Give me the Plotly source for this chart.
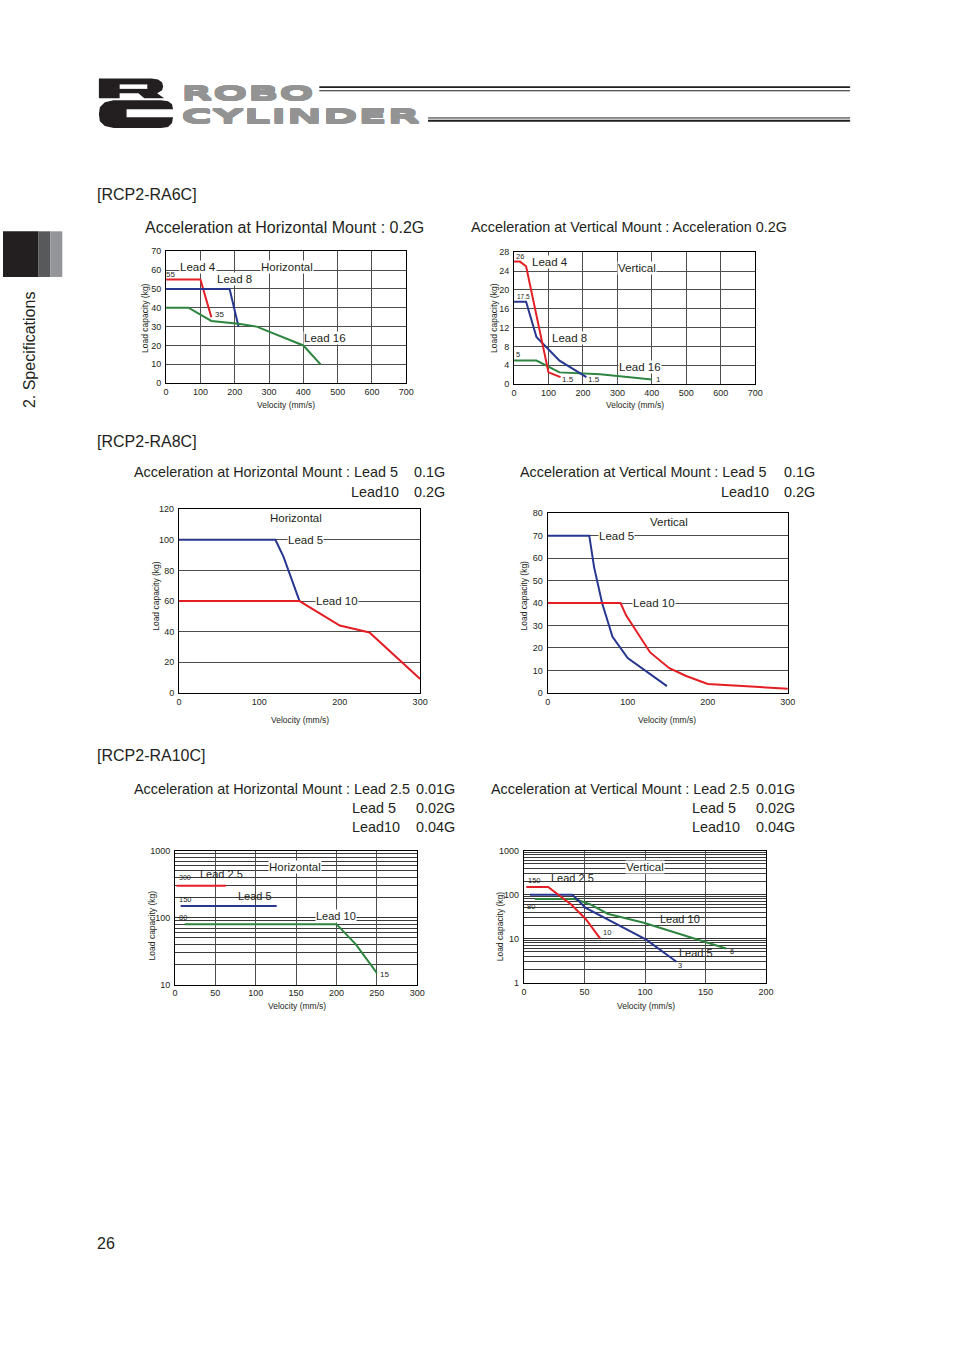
import math
import plotly.graph_objects as go

W, H = 954, 1350
FONT = "Liberation Sans, Arial, sans-serif"
INK = "#231f20"
RED = "#e31e24"
BLUE = "#27378f"
GREEN = "#2e8540"
GRID = "#4d4d4d"

# ---------------- data ----------------
# RCP2-RA6C horizontal (velocity mm/s, load kg)
ra6c_h_lead4_x = [0, 100, 132]
ra6c_h_lead4_y = [55, 55, 35]
ra6c_h_lead8_x = [0, 185, 211]
ra6c_h_lead8_y = [50, 50, 30]
ra6c_h_lead16_x = [0, 65, 132, 211, 264, 400, 450]
ra6c_h_lead16_y = [40, 40, 33, 31.5, 30, 20, 10]
# RCP2-RA6C vertical
ra6c_v_lead4_x = [0, 17, 35, 100, 135]
ra6c_v_lead4_y = [26, 26, 25, 2.5, 1.5]
ra6c_v_lead8_x = [0, 35, 65, 132, 210]
ra6c_v_lead8_y = [17.5, 17.5, 10, 5, 1.5]
ra6c_v_lead16_x = [0, 65, 132, 250, 400]
ra6c_v_lead16_y = [5, 5, 2.5, 2.1, 1]
# RCP2-RA8C horizontal
ra8c_h_lead5_x = [0, 120, 130, 150]
ra8c_h_lead5_y = [100, 100, 89, 60]
ra8c_h_lead10_x = [0, 150, 200, 237, 300]
ra8c_h_lead10_y = [60, 60, 44, 39.5, 9]
# RCP2-RA8C vertical
ra8c_v_lead5_x = [0, 52, 58, 68, 81, 100, 149]
ra8c_v_lead5_y = [70, 70, 56, 40, 25, 15.5, 3]
ra8c_v_lead10_x = [0, 91, 98, 128, 152, 173, 200, 300]
ra8c_v_lead10_y = [40, 40, 34.5, 18, 11, 7.5, 4, 1.8]
# RCP2-RA10C horizontal (log load axis)
ra10c_h_lead25_x = [2, 63]
ra10c_h_lead25_y = [300, 300]
ra10c_h_lead5_x = [7, 126]
ra10c_h_lead5_y = [150, 150]
ra10c_h_lead10_x = [12, 200, 224, 250]
ra10c_h_lead10_y = [80, 80, 40, 15]
# RCP2-RA10C vertical (log load axis)
ra10c_v_lead25_x = [2, 20, 39, 51, 63]
ra10c_v_lead25_y = [150, 150, 60, 28, 10]
ra10c_v_lead5_x = [5, 40, 51, 101, 126]
ra10c_v_lead5_y = [100, 100, 50, 9.5, 3]
ra10c_v_lead10_x = [9, 42, 55, 69, 99, 167]
ra10c_v_lead10_y = [80, 80, 60, 37, 23, 6]

# tick values
ra6c_h_xticks = [0, 100, 200, 300, 400, 500, 600, 700]
ra6c_h_yticks = [0, 10, 20, 30, 40, 50, 60, 70]
ra6c_v_xticks = [0, 100, 200, 300, 400, 500, 600, 700]
ra6c_v_yticks = [0, 4, 8, 12, 16, 20, 24, 28]
ra8c_h_xticks = [0, 100, 200, 300]
ra8c_h_yticks = [0, 20, 40, 60, 80, 100, 120]
ra8c_v_xticks = [0, 100, 200, 300]
ra8c_v_yticks = [0, 10, 20, 30, 40, 50, 60, 70, 80]
ra10c_h_xticks = [0, 50, 100, 150, 200, 250, 300]
ra10c_h_yticks = [10, 100, 1000]
ra10c_v_xticks = [0, 50, 100, 150, 200]
ra10c_v_yticks = [1, 10, 100, 1000]


def fx(x):
    return x / W


def fy(y):
    return 1 - y / H


fig = go.Figure()

panels = [
    dict(box=(165, 408, 248, 381), xr=[0, 700], yr=[0, 70], xt=ra6c_h_xticks, yt=ra6c_h_yticks, log=False, vgrid=True),
    dict(box=(517, 761, 249, 382), xr=[0, 700], yr=[0, 28], xt=ra6c_v_xticks, yt=ra6c_v_yticks, log=False, vgrid=True),
    dict(box=(178, 422, 508, 693), xr=[0, 300], yr=[0, 120], xt=ra8c_h_xticks, yt=ra8c_h_yticks, log=False, vgrid=False),
    dict(box=(551, 794, 512, 693), xr=[0, 300], yr=[0, 80], xt=ra8c_v_xticks, yt=ra8c_v_yticks, log=False, vgrid=False),
    dict(box=(174, 419, 852, 987), xr=[0, 300], yr=[1, 3], xt=ra10c_h_xticks, yt=ra10c_h_yticks, log=True, vgrid=True),
    dict(box=(527, 772, 852, 985), xr=[0, 200], yr=[0, 3], xt=ra10c_v_xticks, yt=ra10c_v_yticks, log=True, vgrid=True),
]

series = [
    (1, ra6c_h_lead4_x, ra6c_h_lead4_y, RED), (1, ra6c_h_lead8_x, ra6c_h_lead8_y, BLUE),
    (1, ra6c_h_lead16_x, ra6c_h_lead16_y, GREEN),
    (2, ra6c_v_lead16_x, ra6c_v_lead16_y, GREEN), (2, ra6c_v_lead8_x, ra6c_v_lead8_y, BLUE),
    (2, ra6c_v_lead4_x, ra6c_v_lead4_y, RED),
    (3, ra8c_h_lead5_x, ra8c_h_lead5_y, BLUE), (3, ra8c_h_lead10_x, ra8c_h_lead10_y, RED),
    (4, ra8c_v_lead5_x, ra8c_v_lead5_y, BLUE), (4, ra8c_v_lead10_x, ra8c_v_lead10_y, RED),
    (5, ra10c_h_lead25_x, ra10c_h_lead25_y, RED), (5, ra10c_h_lead5_x, ra10c_h_lead5_y, BLUE),
    (5, ra10c_h_lead10_x, ra10c_h_lead10_y, GREEN),
    (6, ra10c_v_lead10_x, ra10c_v_lead10_y, GREEN), (6, ra10c_v_lead5_x, ra10c_v_lead5_y, BLUE),
    (6, ra10c_v_lead25_x, ra10c_v_lead25_y, RED),
]

for n, xs, ys, col in series:
    sfx = "" if n == 1 else str(n)
    fig.add_trace(go.Scatter(x=xs, y=ys, mode="lines", line=dict(color=col, width=2),
                             xaxis="x" + sfx, yaxis="y" + sfx, showlegend=False, hoverinfo="skip"))

layout = {}
for i, p in enumerate(panels, start=1):
    sfx = "" if i == 1 else str(i)
    x0, x1, yt, yb = p["box"]
    xa = dict(domain=[fx(x0), fx(x1)], range=p["xr"], anchor="y" + sfx, tickmode="array",
              tickvals=p["xt"], showgrid=p["vgrid"], gridcolor=GRID, gridwidth=1,
              showline=True, mirror=True, linecolor="black", linewidth=1, ticks="",
              zeroline=False, tickfont=dict(family=FONT, size=9, color=INK), fixedrange=True)
    ya = dict(domain=[fy(yb), fy(yt)], range=p["yr"], anchor="x" + sfx, tickmode="array",
              tickvals=p["yt"], showgrid=True, gridcolor=GRID, gridwidth=1,
              showline=True, mirror=True, linecolor="black", linewidth=1, ticks="",
              zeroline=False, tickfont=dict(family=FONT, size=9, color=INK), fixedrange=True,
              ticklabelstandoff=2)
    if p["log"]:
        ya["type"] = "log"
        ya["ticktext"] = [str(v) for v in p["yt"]]
        ya["gridcolor"] = "#333333"
        minor_vals = []
        for d in p["yt"][:-1]:
            minor_vals += [d * k for k in range(2, 10)]
        ya["minor"] = dict(tickmode="array", tickvals=minor_vals, showgrid=True,
                           gridcolor="#3a3a3a", gridwidth=1, ticks="")
    layout["xaxis" + sfx] = xa
    layout["yaxis" + sfx] = ya

annotations = []


def txt(x, y, text, size=16, anchor="left", color=INK, angle=0, valign="middle"):
    annotations.append(dict(x=fx(x), y=fy(y), xref="paper", yref="paper", text=text, showarrow=False,
                            xanchor=anchor, yanchor=valign, textangle=angle,
                            font=dict(family=FONT, size=size, color=color)))


labels = [
    (1, 12, 57.6, "55", 8, False), (1, 94, 61.5, "Lead 4", 11.5, True), (1, 198, 55, "Lead 8", 11.5, True),
    (1, 352, 61.7, "Horizontal", 11.5, True), (1, 155, 36.4, "35", 8, False), (1, 463, 24, "Lead 16", 11.5, True),
    (2, 17, 27, "26", 7.5, False), (2, 103, 25.9, "Lead 4", 11.5, True), (2, 356, 24.6, "Vertical", 11.5, True),
    (2, 27, 18.6, "17.5", 6.5, False), (2, 161, 9.7, "Lead 8", 11.5, True), (2, 12, 6.3, "5", 7.5, False),
    (2, 367, 3.7, "Lead 16", 11.5, True), (2, 156, 0.95, "1.5", 8, False), (2, 233, 0.95, "1.5", 8, False),
    (2, 418, 0.95, "1", 8, False),
    (3, 146, 114, "Horizontal", 11.5, True), (3, 158, 100, "Lead 5", 11.5, True), (3, 196, 60, "Lead 10", 11.5, True),
    (4, 151, 76.3, "Vertical", 11.5, True), (4, 86.6, 70, "Lead 5", 11.5, True), (4, 132.5, 40, "Lead 10", 11.5, True),
    (5, 12, 400, "300", 7, False), (5, 58, 444, "Lead 2.5", 11, False), (5, 13, 188, "150", 7.5, False),
    (5, 99, 211, "Lead 5", 11, False), (5, 10, 102, "80", 7.5, False), (5, 199, 106, "Lead 10", 11, True),
    (5, 149, 565, "Horizontal", 11.5, True), (5, 259, 14.1, "15", 8, False),
    (6, 9, 206, "150", 7.5, False), (6, 40, 241, "Lead 2.5", 11, False), (6, 6, 54, "80", 7.5, False),
    (6, 69, 13.5, "10", 7.5, False), (6, 129, 28, "Lead 10", 11, False), (6, 142, 4.77, "Lead 5", 11, False),
    (6, 172, 5.1, "6", 7.5, False), (6, 129, 2.4, "3", 7.5, False), (6, 100, 420, "Vertical", 11.5, True),
]
for n, x, y, t, s, bg in labels:
    sfx = "" if n == 1 else str(n)
    yy = math.log10(y) if panels[n - 1]["log"] else y
    a = dict(x=x, y=yy, xref="x" + sfx, yref="y" + sfx, text=t, showarrow=False,
             xanchor="center", yanchor="middle", font=dict(family=FONT, size=s, color=INK), borderpad=0)
    if bg:
        a["bgcolor"] = "white"
    annotations.append(a)

for (cx, cy), (lx, ly) in [((286.5, 403), (143, 315)), ((639, 403), (496, 315)),
                           ((300, 720), (154, 595)), ((672, 720), (527, 595)),
                           ((297, 1008), (151, 927)), ((650, 1008), (503, 928))]:
    txt(cx, cy, "Velocity (mm/s)", size=8.5, anchor="center")
    txt(lx, ly, "Load capacity (kg)", size=8.5, anchor="center", angle=-90)

TS = 14.4
txt(93, 191, "[RCP2-RA6C]")
txt(142, 224, "Acceleration at Horizontal Mount : 0.2G")
txt(471, 224, "Acceleration at Vertical Mount : Acceleration 0.2G", size=TS)
txt(93, 440, "[RCP2-RA8C]")
txt(130, 470, "Acceleration at Horizontal Mount : Lead 5", size=TS)
txt(414, 470, "0.1G", size=TS)
txt(350, 491, "Lead10", size=TS)
txt(414, 491, "0.2G", size=TS)
txt(521, 470, "Acceleration at Vertical Mount : Lead 5", size=TS)
txt(788, 470, "0.1G", size=TS)
txt(724, 491, "Lead10", size=TS)
txt(788, 491, "0.2G", size=TS)
txt(93, 756, "[RCP2-RA10C]")
txt(131, 790, "Acceleration at Horizontal Mount : Lead 2.5", size=TS)
txt(416, 790, "0.01G", size=TS)
txt(351, 809, "Lead 5", size=TS)
txt(416, 809, "0.02G", size=TS)
txt(351, 828, "Lead10", size=TS)
txt(416, 828, "0.04G", size=TS)
txt(492, 790, "Acceleration at Vertical Mount : Lead 2.5", size=TS)
txt(760, 790, "0.01G", size=TS)
txt(695, 809, "Lead 5", size=TS)
txt(760, 809, "0.02G", size=TS)
txt(695, 828, "Lead10", size=TS)
txt(760, 828, "0.04G", size=TS)
txt(93, 1248, "26")
txt(27, 347, "2. Specifications", anchor="center", angle=-90)

# logo words (heavy grey; stretched horizontally after render)
LOGO_GRAY = "#939393"
SH = ", ".join("0px %spx 0 %s" % (d, LOGO_GRAY) for d in ["-1", "-2", "1", "2"])
for word, y in [("ROBO", 89), ("CYLINDER", 112)]:
    annotations.append(dict(x=fx(179), y=fy(y), xref="paper", yref="paper", text="<b>%s</b>" % word,
                            showarrow=False, xanchor="left", yanchor="middle", borderpad=0,
                            font=dict(family="DejaVu Sans", size=19, color=LOGO_GRAY, shadow=SH)))

shapes = []


def rect(x0, y0, x1, y1, color):
    shapes.append(dict(type="rect", xref="paper", yref="paper", x0=fx(x0), x1=fx(x1), y0=fy(y1), y1=fy(y0),
                       fillcolor=color, line=dict(width=0), layer="above"))


def hline(x0, x1, y, w):
    shapes.append(dict(type="line", xref="paper", yref="paper", x0=fx(x0), x1=fx(x1), y0=fy(y), y1=fy(y),
                       line=dict(color=INK, width=w)))


def path(pts, color):
    d = "M " + " L ".join("%f,%f" % (fx(a), fy(b)) for a, b in pts) + " Z"
    shapes.append(dict(type="path", xref="paper", yref="paper", path=d, fillcolor=color,
                       line=dict(width=0), layer="above"))


rect(0, 228, 36, 274, INK)
rect(36, 228, 48, 274, "#58595b")
rect(48, 228, 60, 274, "#939598")

hline(320, 857, 82.7, 1.6)
hline(320, 857, 86.4, 1)
hline(430, 857, 113.8, 1)
hline(430, 857, 116.6, 2.2)

path([(97, 74), (150, 74), (157, 75), (161, 78), (162, 82), (161, 86), (156, 89), (163, 94),
      (143, 94), (137, 89), (118, 89), (118, 94), (97, 94)], INK)
rect(118, 80, 146, 84.5, "white")
path([(112, 96), (160, 96), (167, 97), (171, 100), (172, 105), (125, 105), (125, 113), (172, 113),
      (171, 119), (167, 123), (160, 124), (112, 124), (103, 122), (98, 117), (97, 110),
      (98, 103), (103, 98)], INK)

layout.update(dict(width=W, height=H, margin=dict(l=0, r=0, t=0, b=0), paper_bgcolor="white",
                   plot_bgcolor="white", showlegend=False, annotations=annotations, shapes=shapes))
fig.update_layout(**layout)

POST = """
document.body.style.margin='0';document.body.style.padding='0';document.body.style.overflow='hidden';
var widths = {'ROBO': 133, 'CYLINDER': 240};
document.querySelectorAll('.annotation-text').forEach(function(t){
  var target = widths[t.textContent];
  if (target) {
    var b = t.getBBox();
    var sx = target / b.width;
    t.setAttribute('transform', 'translate(' + (b.x * (1 - sx)) + ',0) scale(' + sx + ',1)');
  }
});
"""
fig.write_html("out.html", config={"displayModeBar": False, "staticPlot": True}, post_script=POST)
